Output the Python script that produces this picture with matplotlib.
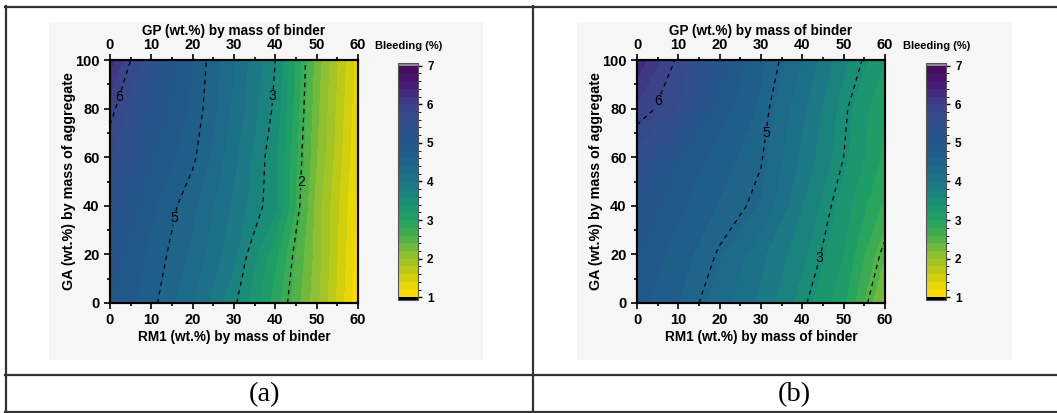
import numpy as np
import matplotlib
matplotlib.use("Agg")
import matplotlib.pyplot as plt
from matplotlib.colors import LinearSegmentedColormap, BoundaryNorm
from matplotlib.lines import Line2D
from matplotlib.patches import Rectangle

plt.rcParams['font.family'] = ['Liberation Sans', 'DejaVu Sans']

# ---------------- data ----------------
rm1 = [0, 10, 20, 30, 40, 50, 60]          # RM1 (wt.%) by mass of binder
ga = [0, 20, 40, 60, 80, 100]              # GA (wt.%) by mass of aggregate
gp_ticks = [0, 10, 20, 30, 40, 50, 60]     # GP (wt.%) by mass of binder (top axis)

# Bleeding (%) — rows = GA, columns = RM1
bleed_a = [
    [5.00, 4.67, 4.20, 3.65, 2.90, 2.05, 1.05],
    [5.10, 4.75, 4.35, 3.85, 3.05, 2.10, 1.10],
    [5.30, 4.85, 4.45, 3.95, 3.45, 2.10, 1.15],
    [5.60, 5.00, 4.65, 4.05, 3.45, 2.20, 1.20],
    [5.90, 5.15, 4.75, 4.15, 3.55, 2.25, 1.25],
    [6.30, 5.30, 4.80, 4.20, 3.60, 2.30, 1.30],
]
bleed_b = [
    [4.90, 4.60, 4.30, 3.95, 3.50, 3.05, 2.10],
    [5.00, 4.70, 4.42, 4.05, 3.65, 3.20, 2.40],
    [5.20, 4.85, 4.58, 4.38, 3.80, 3.30, 2.75],
    [5.50, 5.00, 4.70, 4.47, 3.95, 3.45, 2.95],
    [5.95, 5.60, 4.90, 4.55, 4.05, 3.50, 3.00],
    [6.35, 5.75, 5.10, 4.65, 4.20, 3.65, 3.20],
]

# dashed iso-lines (level -> printed label) and label anchor points
lines_a = {2.65: '2', 3.6: '3', 4.6: '5', 5.8: '6'}
label_pos_a = [(46, 50), (39.5, 85), (15.5, 35), (3.5, 84)]
lines_b = {2.5: '', 3.45: '3', 4.45: '5', 5.8: '6'}
label_pos_b = [(43, 19), (31.5, 70), (4, 84)]

cbar_ticks = [1, 2, 3, 4, 5, 6, 7]
captions = ['(a)', '(b)']

# ---------------- style ----------------
W, H = 1057, 413
fig = plt.figure(figsize=(W / 100, H / 100), dpi=100)

anchors = [(0.0, '#460a5c'), (1/12, '#451f78'), (2/12, '#3c438a'), (3/12, '#30508d'),
           (4/12, '#22578b'), (5/12, '#1f6489'), (6/12, '#1c7488'), (7/12, '#1a8c78'),
           (8/12, '#1ea064'), (9/12, '#48b04a'), (10/12, '#90c030'), (11/12, '#c8cc10'),
           (1.0, '#fcdc00')]
cmap = LinearSegmentedColormap.from_list('bleed', anchors)
cmap = cmap.reversed()
cmap.set_over('#8c8c8c')
cmap.set_under('#000000')
levels = np.arange(1.0, 7.0001, 0.2)
norm = BoundaryNorm(levels, cmap.N)

def px_rect(x0, y0, x1, y1):
    return [x0 / W, 1 - y1 / H, (x1 - x0) / W, (y1 - y0) / H]

# table lines & backgrounds
bg = fig.add_axes([0, 0, 1, 1])
bg.set_xlim(0, W); bg.set_ylim(H, 0); bg.axis('off')
for x0, x1 in [(49, 483), (577, 1012)]:
    bg.add_patch(Rectangle((x0, 22), x1 - x0, 338, facecolor='#f6f6f6', edgecolor='none'))
lc = '#333333'
bg.add_line(Line2D([5, W], [6.5, 6.5], color=lc, lw=1.6))
bg.add_line(Line2D([5, W], [374.5, 374.5], color=lc, lw=1.6))
bg.add_line(Line2D([5, W], [411.5, 411.5], color=lc, lw=1.6))
bg.add_line(Line2D([5.5, 5.5], [6, 412], color=lc, lw=1.6))
bg.add_line(Line2D([533, 533], [6, 412], color=lc, lw=1.6))
bg.text(265, 395, captions[0], ha='center', va='center', fontsize=20.5, family='Liberation Serif')
bg.text(794, 395, captions[1], ha='center', va='center', fontsize=20.5, family='Liberation Serif')

panels = [
    (bleed_a, lines_a, label_pos_a, 110, 398),
    (bleed_b, lines_b, label_pos_b, 637, 926),
]
for data, lines, lpos, ax_x0, cb_x0 in panels:
    ax = fig.add_axes(px_rect(ax_x0, 60, ax_x0 + 248, 303))
    Z = np.array(data)
    cf = ax.contourf(rm1, ga, Z, levels=levels, cmap=cmap, norm=norm, extend='both')
    lv = sorted(lines.keys())
    cs = ax.contour(rm1, ga, Z, levels=lv, colors='black', linewidths=0.9,
                    linestyles=[(0, (3.5, 3.5))] * len(lv))
    ax.clabel(cs, fmt=lines, fontsize=10, inline=True, inline_spacing=3, manual=lpos)
    for t in cs.labelTexts:
        t.set_rotation(0)
    ax.set_xlim(0, 60); ax.set_ylim(0, 100)
    ax.set_xticks(rm1); ax.set_yticks(ga)
    ax.set_xticks(np.arange(5, 60, 10), minor=True)
    ax.set_yticks(np.arange(10, 100, 20), minor=True)
    ax.tick_params(which='both', direction='out', width=1.2, labelsize=10.5)
    ax.tick_params(which='major', length=4)
    ax.tick_params(which='minor', length=2.5)
    for lab in ax.get_xticklabels() + ax.get_yticklabels():
        lab.set_fontweight('bold')
    for s in ax.spines.values():
        s.set_linewidth(1.5)
    ax.set_xlabel('RM1 (wt.%) by mass of binder', fontsize=9.8, fontweight='bold', labelpad=2)
    ax.set_ylabel('GA (wt.%) by mass of aggregate', fontsize=10.3, fontweight='bold', labelpad=-1)

    top = ax.twiny()
    top.set_xlim(0, 60)
    top.set_xticks(gp_ticks)
    top.set_xticks(np.arange(5, 60, 10), minor=True)
    top.tick_params(which='both', direction='out', width=1.2, labelsize=10.5, pad=2)
    top.tick_params(which='major', length=4)
    top.tick_params(which='minor', length=2.5)
    for lab in top.get_xticklabels():
        lab.set_fontweight('bold')
    top.set_xlabel('GP (wt.%) by mass of binder', fontsize=9.8, fontweight='bold', labelpad=2)
    for s in top.spines.values():
        s.set_linewidth(1.5)

    cax = fig.add_axes(px_rect(cb_x0, 63, cb_x0 + 20, 300))
    cb = fig.colorbar(cf, cax=cax, ticks=cbar_ticks, extend='both', extendrect=True,
                      extendfrac=0.012, drawedges=False)
    cb.ax.tick_params(labelsize=8.5, width=1, length=3)
    for lab in cb.ax.get_yticklabels():
        lab.set_fontweight('bold')
    cb.outline.set_linewidth(0.8)
    cb.outline.set_edgecolor('#555555')
    fig.text((cb_x0 + 11) / W, 1 - 46 / H, 'Bleeding (%)', ha='center', va='center',
             fontsize=8, fontweight='bold')

fig.savefig('out.png', dpi=100)
